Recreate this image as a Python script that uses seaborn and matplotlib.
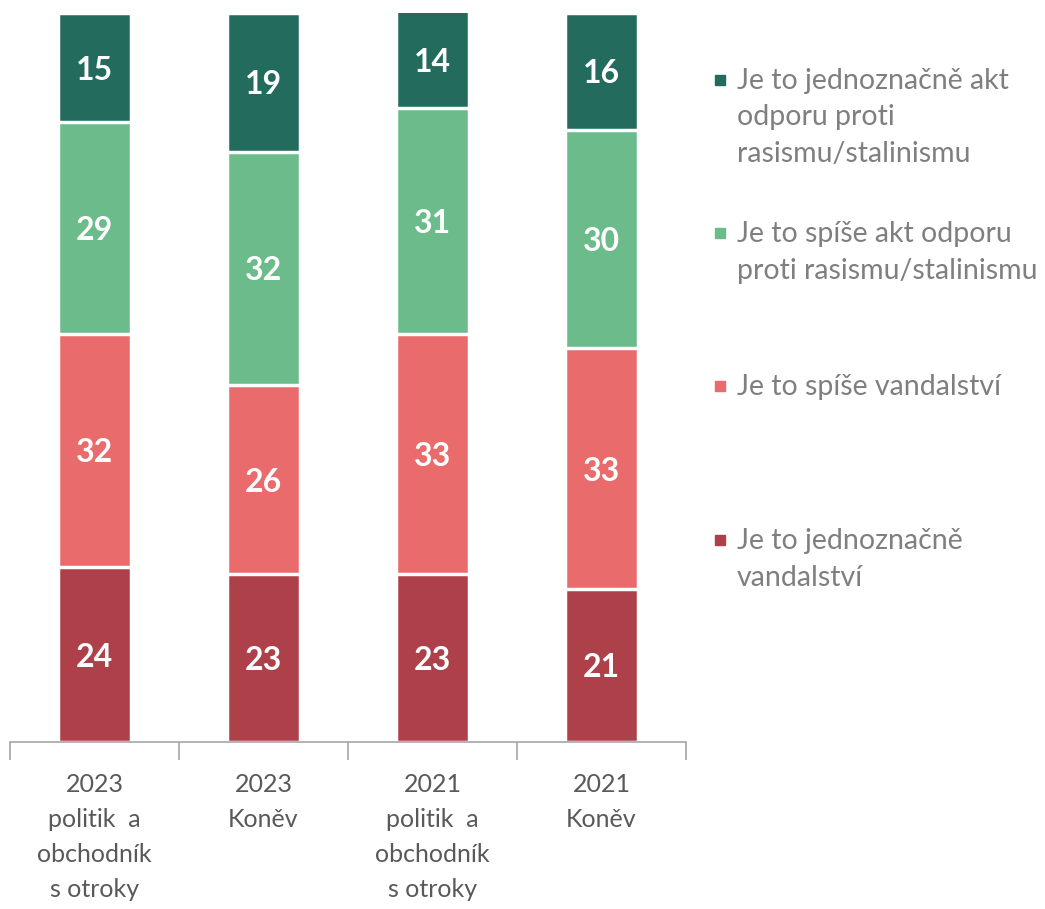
import pandas as pd
import numpy as np
import matplotlib
matplotlib.use('Agg')
import matplotlib.pyplot as plt
from matplotlib.patches import Rectangle
import seaborn as sns

# ── Data ──────────────────────────────────────────────────────────────────
groups = ["2023\npolitik  a\nobchodník\ns otroky", "2023\nKoněv",
          "2021\npolitik  a\nobchodník\ns otroky", "2021\nKoněv"]
# bottom -> top
series = ["Je to jednoznačně vandalství",
          "Je to spíše vandalství",
          "Je to spíše akt odporu proti rasismu/stalinismu",
          "Je to jednoznačně akt odporu proti rasismu/stalinismu"]
legend_labels = ["Je to jednoznačně\nvandalství",
                 "Je to spíše vandalství",
                 "Je to spíše akt odporu\nproti rasismu/stalinismu",
                 "Je to jednoznačně akt\nodporu proti\nrasismu/stalinismu"]
jedn_vandal = [24, 23, 23, 21]
spise_vandal = [32, 26, 33, 33]
spise_odpor = [29, 32, 31, 30]
jedn_odpor = [15, 19, 14, 16]
colors = ["#ae4049", "#e96b6b", "#6bbb8b", "#236b5c"]

values = [jedn_vandal, spise_vandal, spise_odpor, jedn_odpor]
df = pd.DataFrame({"group": groups})
for s, v in zip(series, values):
    df[s] = v
cum = df[series].cumsum(axis=1)
YMAX = 100

sns.set_style("white")
plt.rcParams['font.family'] = ['Lato', 'DejaVu Sans']

fig = plt.figure(figsize=(10.45, 9.09), dpi=100)
ax = fig.add_axes([10/1045, 167/909, 676/1045, 729/909])

# stacked bars: draw cumulative totals from the top segment down
for i in range(len(series) - 1, -1, -1):
    sns.barplot(x=df["group"], y=cum[series[i]], color=colors[i], width=0.43,
                edgecolor="white", linewidth=2.5, ax=ax, saturation=1)

# value labels, centred in the visible part of each segment
for i, s in enumerate(series):
    for j in range(len(groups)):
        top = min(cum[s].iloc[j], YMAX)
        bottom = cum[s].iloc[j] - df[s].iloc[j]
        ax.text(j, (top + bottom) / 2, str(df[s].iloc[j]), ha='center',
                va='center_baseline', color='white', fontsize=23, fontweight='bold')

ax.set_ylim(0, YMAX)
ax.set_xlim(-0.5, 3.5)
ax.set_ylabel(""); ax.set_xlabel("")
ax.set_yticks([])
for sp in ["top", "left", "right"]:
    ax.spines[sp].set_visible(False)
ax.spines["bottom"].set_color("#a6a6a6")
ax.spines["bottom"].set_linewidth(1.2)
ax.set_xticks(np.arange(-0.5, 4, 1), minor=True)
ax.tick_params(axis='x', which='minor', bottom=True, length=13, width=1.2,
               color="#a6a6a6", direction='out')
ax.tick_params(axis='x', which='major', length=0, pad=22, labelsize=18, labelcolor="#595959")
for t in ax.get_xticklabels():
    t.set_va('top')
    t.set_linespacing(1.64)

# legend (marker aligned with first line)
legend_y = [540, 386, 233, 80]
for i in range(len(series)):
    y = legend_y[i]
    fig.patches.append(Rectangle((715/1045, (909 - y - 5)/909), 10/1045, 10/909,
                                 transform=fig.transFigure, color=colors[i]))
    fig.text(737/1045, (909 - y + 12)/909, legend_labels[i], ha='left', va='top',
             fontsize=20.5, color="#7f7f7f", linespacing=1.5)

plt.savefig("out.png", dpi=100)
plt.close()
